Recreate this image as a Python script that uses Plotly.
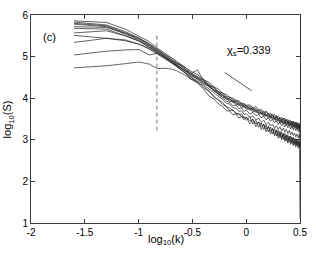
import numpy as np
import plotly.graph_objects as go

# wavenumber index grid (k = n * k0), log10(k0) = -1.6
k_index = [1, 2, 3, 4, 5, 6, 7, 8, 9, 10, 11, 12, 14, 16, 18, 20, 22, 24, 26, 28, 30,
           32, 34, 36, 38, 40, 43, 46, 49, 52, 55, 58, 61, 64, 67, 70, 73, 76, 79, 82,
           85, 88, 91, 94, 97, 100, 103, 106, 109, 112, 115, 118, 121, 124, 126]
log_k0 = -1.6

# log10(S) curves
s1 = [5.86, 5.82, 5.66, 5.50, 5.36, 5.20,
      5.08, 4.99, 4.90, 4.80, 4.74, 4.66, 4.57, 4.45, 4.38, 4.27, 4.22, 4.12, 4.09, 4.02,
      4.00, 3.95, 3.94, 3.88, 3.87, 3.83, 3.84, 3.77, 3.80, 3.71, 3.73, 3.66, 3.69, 3.61,
      3.64, 3.57, 3.61, 3.53, 3.57, 3.50, 3.54, 3.47, 3.52, 3.44, 3.49, 3.42, 3.46, 3.40,
      3.45, 3.37, 3.43, 3.36, 3.40, 3.35, 1.10]
s2 = [5.83, 5.76, 5.60, 5.45, 5.31, 5.17,
      5.05, 4.97, 4.86, 4.79, 4.72, 4.62, 4.53, 4.44, 4.33, 4.26, 4.16, 4.13, 4.04, 4.03,
      3.96, 3.93, 3.91, 3.85, 3.86, 3.80, 3.81, 3.74, 3.75, 3.69, 3.70, 3.63, 3.66, 3.62,
      3.58, 3.60, 3.53, 3.56, 3.50, 3.53, 3.47, 3.51, 3.45, 3.47, 3.44, 3.41, 3.44, 3.38,
      3.42, 3.36, 3.39, 3.34, 3.38, 3.33, 3.36]
s3 = [5.80, 5.74, 5.57, 5.43, 5.28, 5.14,
      5.03, 4.92, 4.85, 4.75, 4.69, 4.58, 4.50, 4.39, 4.32, 4.20, 4.16, 4.06, 4.03, 3.96,
      3.95, 3.88, 3.88, 3.82, 3.83, 3.77, 3.78, 3.71, 3.72, 3.64, 3.67, 3.60, 3.62, 3.56,
      3.60, 3.52, 3.55, 3.48, 3.52, 3.44, 3.49, 3.42, 3.46, 3.40, 3.44, 3.37, 3.41, 3.35,
      3.39, 3.32, 3.37, 3.30, 3.35, 3.28, 3.33]
s4 = [5.78, 5.72, 5.54, 5.40, 5.26, 5.12,
      5.00, 4.90, 4.82, 4.74, 4.66, 4.59, 4.46, 4.38, 4.27, 4.20, 4.11, 4.06, 3.98, 3.97,
      3.90, 3.89, 3.83, 3.83, 3.78, 3.77, 3.72, 3.73, 3.66, 3.67, 3.61, 3.63, 3.56, 3.59,
      3.52, 3.55, 3.48, 3.51, 3.45, 3.48, 3.41, 3.45, 3.38, 3.43, 3.36, 3.40, 3.34, 3.38,
      3.31, 3.36, 3.29, 3.34, 3.27, 3.32, 3.26]
s5 = [5.72, 5.70, 5.56, 5.44, 5.30, 5.16,
      5.04, 4.94, 4.83, 4.78, 4.67, 4.62, 4.48, 4.43, 4.30, 4.25, 4.13, 4.10, 4.00, 3.99,
      3.92, 3.93, 3.85, 3.88, 3.80, 3.83, 3.74, 3.77, 3.68, 3.73, 3.63, 3.68, 3.58, 3.64,
      3.54, 3.60, 3.50, 3.58, 3.47, 3.54, 3.44, 3.52, 3.42, 3.49, 3.39, 3.47, 3.36, 3.45,
      3.34, 3.43, 3.32, 3.42, 3.30, 3.40, 3.29]
s6 = [5.68, 5.66, 5.50, 5.38, 5.24, 5.10,
      4.99, 4.88, 4.80, 4.71, 4.64, 4.55, 4.47, 4.35, 4.29, 4.17, 4.12, 4.02, 3.99, 3.92,
      3.92, 3.84, 3.85, 3.78, 3.80, 3.73, 3.75, 3.67, 3.70, 3.62, 3.64, 3.57, 3.60, 3.52,
      3.56, 3.48, 3.52, 3.44, 3.49, 3.41, 3.46, 3.38, 3.43, 3.35, 3.41, 3.33, 3.38, 3.30,
      3.36, 3.28, 3.34, 3.26, 3.32, 3.24, 3.30]
s7 = [5.57, 5.62, 5.50, 5.37, 5.22, 5.10,
      5.00, 4.90, 4.80, 4.72, 4.63, 4.58, 4.68, 4.42, 4.28, 4.18, 4.08, 4.02, 3.93, 3.90,
      3.82, 3.83, 3.75, 3.77, 3.68, 3.71, 3.62, 3.66, 3.58, 3.61, 3.53, 3.57, 3.48, 3.53,
      3.45, 3.49, 3.41, 3.46, 3.37, 3.43, 3.34, 3.41, 3.31, 3.38, 3.29, 3.36, 3.26, 3.33,
      3.24, 3.31, 3.22, 3.29, 3.20, 3.27, 3.19]
s8 = [5.51, 5.45, 5.40, 5.30, 5.20, 5.08,
      4.97, 4.87, 4.77, 4.70, 4.60, 4.52, 4.42, 4.33, 4.22, 4.13, 4.04, 3.97, 3.88, 3.86,
      3.77, 3.76, 3.68, 3.70, 3.61, 3.63, 3.54, 3.57, 3.48, 3.52, 3.42, 3.47, 3.37, 3.42,
      3.33, 3.38, 3.28, 3.34, 3.25, 3.31, 3.21, 3.28, 3.18, 3.25, 3.15, 3.22, 3.12, 3.19,
      3.10, 3.16, 3.07, 3.14, 3.05, 3.12, 3.04]
s9 = [5.34, 5.44, 5.38, 5.30, 5.18, 5.06,
      4.95, 4.85, 4.76, 4.67, 4.58, 4.50, 4.38, 4.30, 4.15, 4.06, 3.95, 3.90, 3.80, 3.76,
      3.70, 3.66, 3.60, 3.62, 3.52, 3.55, 3.45, 3.49, 3.38, 3.43, 3.32, 3.37, 3.26, 3.31,
      3.21, 3.26, 3.15, 3.22, 3.10, 3.18, 3.06, 3.14, 3.02, 3.10, 2.98, 3.07, 2.96, 3.04,
      2.92, 3.01, 2.90, 2.98, 2.88, 2.95, 2.86]
s10 = [5.04, 5.13, 5.16, 5.17, 5.04, 5.08,
       4.98, 4.86, 4.77, 4.66, 4.59, 4.47, 4.40, 4.25, 4.18, 4.02, 3.96, 3.85, 3.80, 3.70,
       3.72, 3.62, 3.64, 3.55, 3.56, 3.47, 3.55, 3.38, 3.47, 3.30, 3.41, 3.25, 3.36, 3.19,
       3.31, 3.14, 3.27, 3.09, 3.23, 3.05, 3.19, 3.01, 3.15, 2.97, 3.12, 2.94, 3.09, 2.91,
       3.06, 2.88, 3.03, 2.85, 3.00, 2.83, 2.92]
s11 = [4.73, 4.78, 4.83, 4.87, 4.82, 4.71,
       4.72, 4.70, 4.66, 4.60, 4.54, 4.47, 4.36, 4.22, 4.05, 3.98, 3.86, 3.80, 3.70, 3.69,
       3.60, 3.62, 3.52, 3.56, 3.48, 3.54, 3.38, 3.49, 3.31, 3.43, 3.25, 3.38, 3.19, 3.33,
       3.14, 3.28, 3.09, 3.24, 3.04, 3.20, 3.00, 3.16, 2.96, 3.12, 2.92, 3.09, 2.89, 3.06,
       2.86, 3.03, 2.83, 3.00, 2.80, 2.95, 2.82]
curves = [s1, s2, s3, s4, s5, s6, s7, s8, s9, s10, s11]

dash_x = [-0.83, -0.83]
dash_y = [3.22, 5.58]
slope_x = [-0.20, 0.05]
slope_y = [4.62, 4.18]

x_ticks = [-2, -1.5, -1, -0.5, 0, 0.5]
x_tick_text = ["-2", "-1.5", "-1", "-0.5", "0", "0.5"]
y_ticks = [1, 2, 3, 4, 5, 6]
y_tick_text = ["1", "2", "3", "4", "5", "6"]

log_k = np.log10(np.array(k_index, dtype=float)) + log_k0

fig = go.Figure()
for s in curves:
    fig.add_trace(go.Scatter(x=log_k, y=s, mode="lines",
                             line=dict(color="rgb(35,35,35)", width=0.7),
                             showlegend=False, hoverinfo="skip"))
fig.add_trace(go.Scatter(x=dash_x, y=dash_y, mode="lines",
                         line=dict(color="rgb(80,80,80)", width=0.8, dash="4px,3px"),
                         showlegend=False))
fig.add_trace(go.Scatter(x=slope_x, y=slope_y, mode="lines",
                         line=dict(color="rgb(40,40,40)", width=0.8),
                         showlegend=False))

font = dict(family="Liberation Sans, Arial, sans-serif", size=10, color="black")

fig.add_annotation(x=0.03, y=5.14, xref="x", yref="y", text="χ<sub>s</sub>=0.339",
                   showarrow=False, font=dict(family=font["family"], size=11, color="black"))
fig.add_annotation(x=-1.83, y=5.47, xref="x", yref="y", text="(c)",
                   showarrow=False, font=dict(family=font["family"], size=11, color="black"))
fig.add_annotation(x=0.5, y=-0.08, xref="paper", yref="paper", text="log<sub>10</sub>(k)",
                   xanchor="center", yanchor="middle", showarrow=False,
                   font=dict(family=font["family"], size=11, color="black"))
fig.add_annotation(x=-0.084, y=0.5, xref="paper", yref="paper", text="log<sub>10</sub>(S)",
                   xanchor="center", yanchor="middle", showarrow=False, textangle=-90,
                   font=dict(family=font["family"], size=11, color="black"))

axis_common = dict(showline=True, linecolor="rgb(60,60,60)", linewidth=1, mirror="ticks",
                   ticks="inside", ticklen=4, tickcolor="rgb(60,60,60)", showgrid=False,
                   zeroline=False, tickfont=font)
fig.update_xaxes(range=[-2, 0.5], tickvals=x_ticks, ticktext=x_tick_text, **axis_common)
fig.update_yaxes(range=[1, 6], tickvals=y_ticks, ticktext=y_tick_text, **axis_common)

fig.update_layout(width=316, height=254, margin=dict(l=31, r=11, t=9, b=31),
                  plot_bgcolor="white", paper_bgcolor="white", font=font)
fig.write_html("out.html", config={"displayModeBar": False},
               post_script="document.body.style.margin='0';")
